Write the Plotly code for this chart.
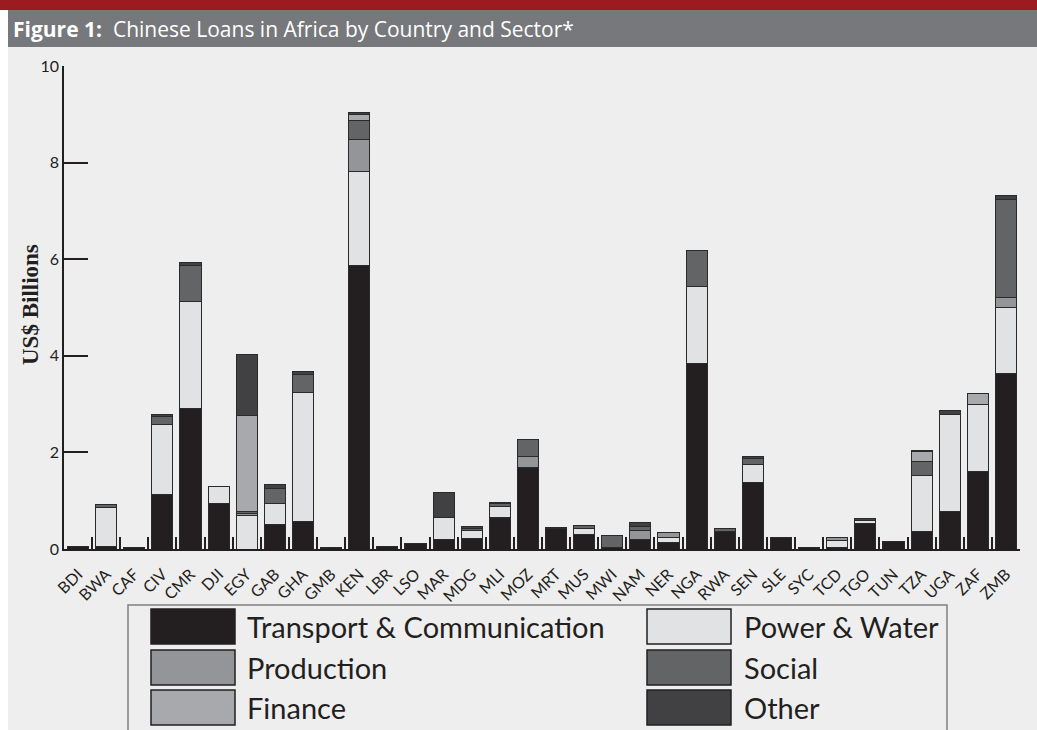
import plotly.graph_objects as go

countries = ["BDI","BWA","CAF","CIV","CMR","DJI","EGY","GAB","GHA","GMB","KEN","LBR","LSO",
             "MAR","MDG","MLI","MOZ","MRT","MUS","MWI","NAM","NER","NGA","RWA","SEN","SLE",
             "SYC","TCD","TGO","TUN","TZA","UGA","ZAF","ZMB"]

transport = [0.05,0.05,0.04,1.12,2.91,0.95,None,0.51,0.56,0.04,5.86,0.06,0.12,
             0.19,0.21,0.65,1.68,0.42,0.30,0.03,0.19,0.13,3.85,0.36,1.37,0.24,
             0.04,0.03,0.53,0.15,0.36,0.78,1.60,3.64]
power_water = [None,0.81,None,1.45,2.21,0.35,0.69,0.44,2.67,None,1.95,None,None,
               0.46,0.18,0.23,None,None,0.12,None,None,0.11,1.59,None,0.37,None,
               None,0.14,0.07,None,1.16,2.00,1.39,1.37]
production = [None,None,None,None,None,None,0.05,None,None,None,0.66,None,None,
              None,None,None,0.23,None,None,None,0.20,0.11,None,None,None,None,
              None,0.07,None,None,None,None,None,0.19]
social = [None,0.07,None,0.17,0.74,None,0.03,0.30,0.38,None,0.40,None,None,
          None,0.04,0.07,0.36,None,0.07,0.24,0.08,None,0.74,0.06,0.14,None,
          None,None,None,None,0.30,None,None,2.03]
finance = [None,None,None,None,None,None,1.99,None,None,None,0.12,None,None,
           None,None,None,None,None,None,None,None,None,None,None,None,None,
           None,None,None,None,0.19,None,0.23,None]
other = [None,None,None,0.05,0.07,None,1.26,0.09,0.06,None,0.05,None,None,
         0.53,0.03,0.02,None,0.02,None,None,0.08,None,None,None,0.03,None,
         None,None,0.04,None,0.03,0.08,None,0.09]

series_names = ["Transport & Communication","Power & Water","Production","Social","Finance","Other"]
series_values = [transport, power_water, production, social, finance, other]
series_colors = ["#231f20","#e1e2e3","#939598","#636466","#a7a9ac","#414042"]

title_bold = "Figure 1:"
title_text = "Chinese Loans in Africa by Country and Sector*"
y_title = "US$ Billions"
y_ticks = [0, 2, 4, 6, 8, 10]

W, H = 1037, 730
PL, PR, PT, PB = 64, 1020, 66, 549

def px(x):
    return (x - PL) / (PR - PL)

def py(y):
    return (PB - y) / (PB - PT)

fig = go.Figure()
for name, vals, col in zip(series_names, series_values, series_colors):
    fig.add_trace(go.Bar(
        x=countries, y=vals, name=name,
        marker=dict(color=col, line=dict(color="#2a2a2a", width=1)),
        showlegend=False,
    ))

shapes = []
# page panels
shapes.append(dict(type="rect", xref="paper", yref="paper", x0=px(8), x1=px(1040), y0=py(10), y1=py(735),
                   fillcolor="#eeeeee", line=dict(width=0), layer="below"))
shapes.append(dict(type="rect", xref="paper", yref="paper", x0=px(-5), x1=px(1040), y0=py(-5), y1=py(10),
                   fillcolor="#9b1b20", line=dict(width=0), layer="below"))
shapes.append(dict(type="rect", xref="paper", yref="paper", x0=px(8), x1=px(1040), y0=py(10), y1=py(47),
                   fillcolor="#77787b", line=dict(width=0), layer="below"))
# legend box
shapes.append(dict(type="rect", xref="paper", yref="paper", x0=px(128), x1=px(947), y0=py(605), y1=py(745),
                   fillcolor="rgba(0,0,0,0)", line=dict(color="#808080", width=1.5)))

annotations = []
annotations.append(dict(xref="paper", yref="paper", x=px(11), y=py(29), xanchor="left", yanchor="middle",
                        showarrow=False,
                        text="<b>" + title_bold + "</b>  " + title_text,
                        font=dict(family="Open Sans", size=21, color="#ffffff")))
annotations.append(dict(xref="paper", yref="paper", x=px(30), y=py(305), xanchor="center", yanchor="middle",
                        showarrow=False, textangle=-90,
                        text="<b>" + y_title + "</b>",
                        font=dict(family="Liberation Serif", size=23, color="#231f20")))

legend_cols = [(151, 245), (647, 742)]
legend_rows = [(609, 644), (650, 685), (690, 725)]
legend_order = [(0, 0, 0), (1, 1, 0), (2, 0, 1), (3, 1, 1), (4, 0, 2), (5, 1, 2)]
for idx, c, r in legend_order:
    sx, tx = legend_cols[c]
    y0, y1 = legend_rows[r]
    shapes.append(dict(type="rect", xref="paper", yref="paper", x0=px(sx), x1=px(sx + 84), y0=py(y0), y1=py(y1),
                       fillcolor=series_colors[idx], line=dict(color="#231f20", width=1.5)))
    annotations.append(dict(xref="paper", yref="paper", x=px(tx), y=py((y0 + y1) / 2), xanchor="left",
                            yanchor="middle", showarrow=False, text=series_names[idx],
                            font=dict(family="Lato", size=29, color="#231f20")))

fig.update_layout(
    width=W, height=H,
    margin=dict(l=PL, r=W - PR, t=PT, b=H - PB),
    barmode="stack", bargap=0.25,
    paper_bgcolor="#ffffff", plot_bgcolor="rgba(0,0,0,0)",
    shapes=shapes, annotations=annotations,
    showlegend=False,
    xaxis=dict(type="category", range=[-0.5, len(countries) - 0.5], showline=True, linecolor="#231f20",
               linewidth=1.5, ticks="inside", tickson="boundaries", ticklen=12, tickwidth=1.5,
               tickcolor="#231f20", tickangle=-45, showgrid=False, zeroline=False,
               ticklabelstandoff=8,
               tickfont=dict(family="Lato", size=16, color="#231f20")),
    yaxis=dict(range=[0, 10], tickvals=y_ticks, showline=True, linecolor="#231f20", linewidth=1.5,
               ticks="inside", ticklen=24, tickwidth=1.5, tickcolor="#231f20", showgrid=False,
               zeroline=False, tickfont=dict(family="Lato", size=16, color="#231f20")),
)

fig.write_html("out.html", config={"displayModeBar": False},
               post_script="document.body.style.margin='0px';document.body.style.overflow='hidden';")
